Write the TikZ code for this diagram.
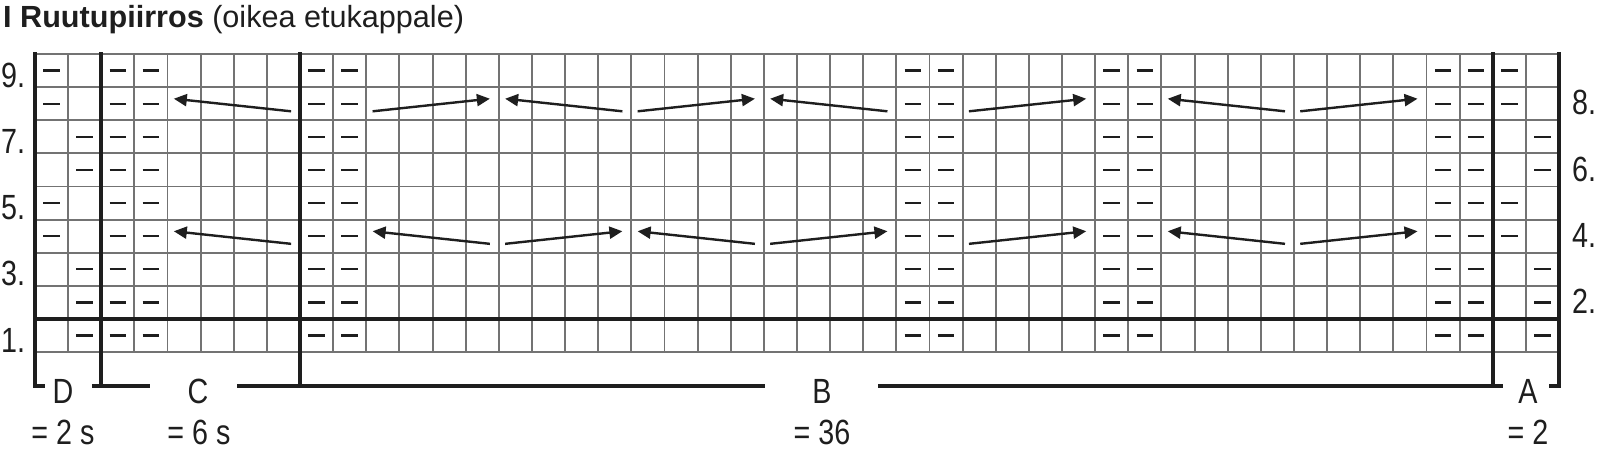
\documentclass[tikz,border=0pt]{standalone}
\usepackage{fontspec}
\setmainfont{Liberation Sans}
\newfontfamily\narrowfont[FakeStretch=0.82]{Liberation Sans}
\usetikzlibrary{arrows.meta}
\definecolor{gridgray}{RGB}{115,115,115}
\definecolor{ink}{RGB}{30,30,30}
\tikzset{
  gridline/.style={draw=gridgray, line width=1.9pt},
  boldline/.style={draw=ink, line width=3.6pt},
  purl/.style={draw=ink, line width=2.3pt},
  cable/.style={draw=ink, line width=2.4pt, -{Triangle[length=13pt,width=12pt]}},
  leftlabel/.style={font=\narrowfont\fontsize{35}{40}\selectfont, text=ink, inner sep=0pt, anchor=base west},
  partlabel/.style={font=\narrowfont\fontsize{35}{40}\selectfont, text=ink, inner sep=0pt, anchor=base},
}
\begin{document}
\begin{tikzpicture}[x=1pt,y=-1pt]
\useasboundingbox (0,0) rectangle (1600,449);
\node[anchor=base west, inner sep=0pt, text=ink, font=\fontsize{30.6}{36}\selectfont] (title) at (3,28) {\textbf{I Ruutupiirros} (oikea etukappale)};

\begin{scope}[shift={(35pt,-54pt)}, x=33.13pt, y=-33.13pt]
  % grid
  \foreach \i in {0,...,46} \draw[gridline] (\i,0) -- (\i,9);
  \foreach \j in {0,...,9} \draw[gridline] (0,\j) -- (46,\j);
  % purl dashes
  \foreach \rw in {1,...,9} {
    \foreach \cl in {3,4,9,10,27,28,33,34,43,44} {
      \draw[purl] ({\cl-0.75},{9.5-\rw}) -- ({\cl-0.25},{9.5-\rw});
    }
  }
  \foreach \rw in {9,8,5,4} {
    \foreach \cl in {1,45} {
      \draw[purl] ({\cl-0.75},{9.5-\rw}) -- ({\cl-0.25},{9.5-\rw});
    }
  }
  \foreach \rw in {7,6,3,2,1} {
    \foreach \cl in {2,46} {
      \draw[purl] ({\cl-0.75},{9.5-\rw}) -- ({\cl-0.25},{9.5-\rw});
    }
  }
  % cable arrows: left end at boundary+0.19, right end at boundary-0.27
  \foreach \rw/\a/\b in {8/8/4, 8/10/14, 8/18/14, 8/18/22, 8/26/22, 8/28/32, 8/38/34, 8/38/42,
                         4/8/4, 4/14/10, 4/14/18, 4/22/18, 4/22/26, 4/28/32, 4/38/34, 4/38/42} {
    \pgfmathsetmacro{\ta}{ifthenelse(\b>\a,\a+0.19,\a-0.27)}
    \pgfmathsetmacro{\tb}{ifthenelse(\b>\a,\b-0.27,\b+0.19)}
    \draw[cable] (\ta,{9-\rw+0.73}) -- (\tb,{9-\rw+0.35});
  }
  % bold lines and brackets
  \draw[boldline] (0,8) -- (46,8);
  \draw[boldline] (0,-0.05) -- (0,10.02) -- (0.30,10.02);
  \draw[boldline] (2,-0.05) -- (2,10.02);
  \draw[boldline] (8,-0.05) -- (8,10.02);
  \draw[boldline] (44,-0.05) -- (44,10.02);
  \draw[boldline] (46,-0.05) -- (46,10.02) -- (45.71,10.02);
  \draw[boldline] (1.72,10.02) -- (3.47,10.02);
  \draw[boldline] (6.10,10.02) -- (22.03,10.02);
  \draw[boldline] (25.45,10.02) -- (44.31,10.02);
\end{scope}

% row numbers
\node[leftlabel] (r9) at (1,87.1) {9.};
\node[leftlabel] (r7) at (1,153.3) {7.};
\node[leftlabel] (r5) at (1,219.6) {5.};
\node[leftlabel] (r3) at (1,285.8) {3.};
\node[leftlabel] (r1) at (1,352.1) {1.};
\node[leftlabel] (r8) at (1572,115.0) {8.};
\node[leftlabel] (r6) at (1572,181.3) {6.};
\node[leftlabel] (r4) at (1572,247.6) {4.};
\node[leftlabel] (r2) at (1572,313.8) {2.};

% part labels
\node[partlabel] (pD) at (63,403) {D};
\node[partlabel] (pC) at (198,403) {C};
\node[partlabel] (pB) at (822,403) {B};
\node[partlabel] (pA) at (1528,403) {A};
\node[partlabel] (nD) at (63,444) {= 2 s};
\node[partlabel] (nC) at (199,444) {= 6 s};
\node[partlabel] (nB) at (822,444) {= 36};
\node[partlabel] (nA) at (1528,444) {= 2};
\end{tikzpicture}
\end{document}
